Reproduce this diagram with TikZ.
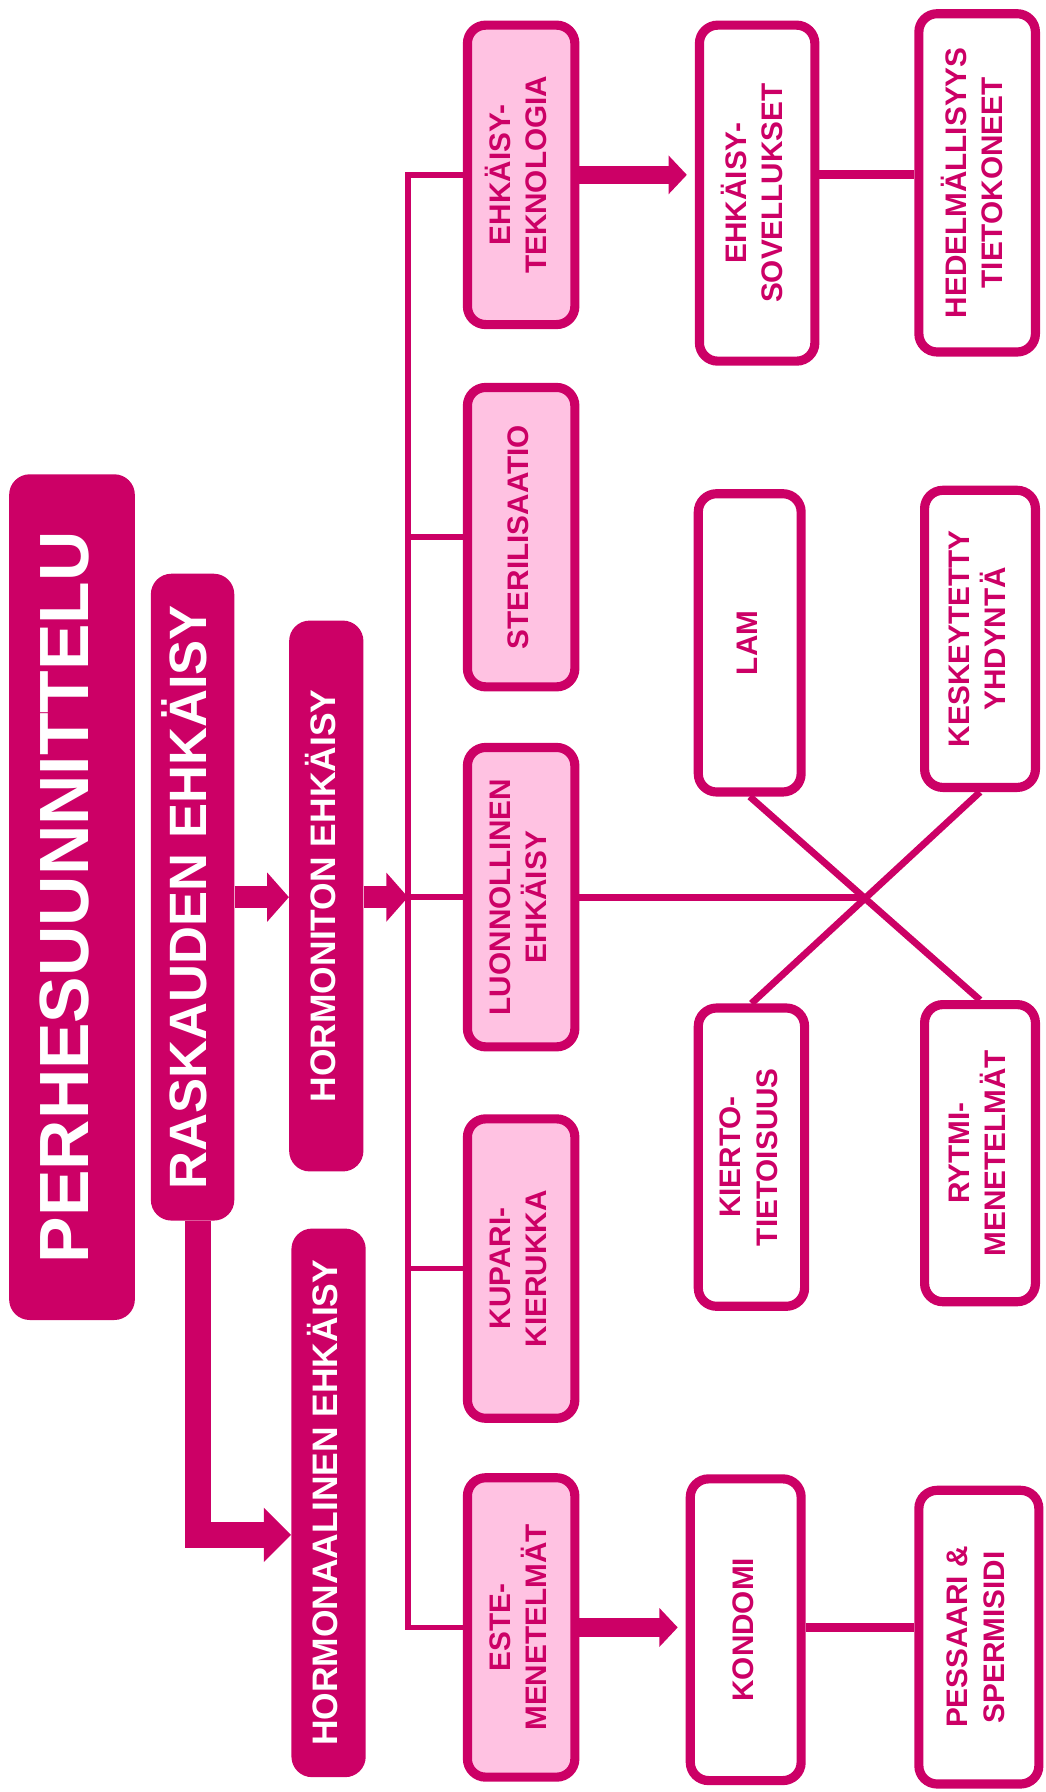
\documentclass[tikz,border=0pt]{standalone}
\usepackage{fontspec}
\setmainfont{Liberation Sans}
\usepackage{graphicx}
\usetikzlibrary{arrows.meta}
\definecolor{brand}{RGB}{204,0,102}
\definecolor{blush}{RGB}{255,194,226}
\newcommand{\vlabel}[1]{\rotatebox{90}{\begin{tabular}{@{}c@{}}#1\end{tabular}}}

\begin{document}
\begin{tikzpicture}
[x=1pt,y=-1pt,
 headbox/.style={rectangle,rounded corners=18pt,fill=brand,text=white,inner sep=0pt},
 methodbox/.style={rectangle,rounded corners=16pt,draw=brand,line width=8pt,fill=blush,text=brand,inner sep=0pt,
                   minimum width=94pt,minimum height=262pt,font=\fontsize{26}{32}\selectfont\bfseries},
 subbox/.style={methodbox,fill=white},
 bigarrow/.style={color=brand,line width=19pt,-{Triangle[width=42pt,length=19pt]}},
 sidearrow/.style={color=brand,line width=16pt,shorten >=7pt,-{Triangle[width=33pt,length=16pt]}},
 link/.style={color=brand,line width=8pt},
 branch/.style={color=brand,line width=5pt,line join=miter}]
\useasboundingbox (0,0) rectangle (915,1568);
% headings
\node[headbox,minimum width=110pt,minimum height=740pt,font=\fontsize{61}{70}\selectfont\bfseries] (perhe) at (63,785) {\vlabel{PERHESUUNNITTELU}};
\node[headbox,minimum width=73pt,minimum height=566pt,font=\fontsize{46}{52}\selectfont\bfseries] (rask) at (168.5,785) {\vlabel{RASKAUDEN EHKÄISY}};
\node[headbox,minimum width=65pt,minimum height=482pt,font=\fontsize{31}{36}\selectfont\bfseries] (hton) at (285.5,784) {\vlabel{HORMONITON EHKÄISY}};
\node[headbox,minimum width=65pt,minimum height=480pt,font=\fontsize{31}{36}\selectfont\bfseries] (hnen) at (287.5,1315) {\vlabel{HORMONAALINEN EHKÄISY}};
% methods
\node[methodbox] (tekno)  at (456,153)  {\vlabel{EHKÄISY-\\TEKNOLOGIA}};
\node[methodbox] (steri)  at (456,470)  {\vlabel{STERILISAATIO}};
\node[methodbox] (luonn)  at (456,785)  {\vlabel{LUONNOLLINEN\\EHKÄISY}};
\node[methodbox] (kupari) at (456,1110) {\vlabel{KUPARI-\\KIERUKKA}};
\node[methodbox] (este)   at (456,1424) {\vlabel{ESTE-\\MENETELMÄT}};
% sub methods
\node[subbox,minimum width=101pt,minimum height=294pt] (sovel)    at (662.5,169)   {\vlabel{EHKÄISY-\\SOVELLUKSET}};
\node[subbox,minimum width=90pt,minimum height=261pt]  (lam)      at (656,562.5)   {\vlabel{LAM}};
\node[subbox,minimum width=93pt,minimum height=261pt]  (kierto)   at (657.5,1012.5){\vlabel{KIERTO-\\TIETOISUUS}};
\node[subbox,minimum width=97pt,minimum height=264pt]  (kondomi)  at (652.5,1426)  {\vlabel{KONDOMI}};
\node[subbox,minimum width=102pt,minimum height=296pt] (hedel)    at (855,160)     {\vlabel{HEDELMÄLLISYYS\\TIETOKONEET}};
\node[subbox,minimum width=97pt,minimum height=260pt]  (kesk)     at (857.5,559)   {\vlabel{KESKEYTETTY\\YHDYNTÄ}};
\node[subbox,minimum width=97pt,minimum height=260pt]  (rytmi)    at (857.5,1009)  {\vlabel{RYTMI-\\MENETELMÄT}};
\node[subbox,minimum width=105pt,minimum height=257pt] (pessaari) at (856.5,1432.5){\vlabel{PESSAARI \&\\SPERMISIDI}};
\coordinate (spine) at (357,785);
\coordinate (bend)  at (173,1343);
\coordinate (cross) at (757,785);
% arrows
\draw[bigarrow] (rask.east) -- (rask.east -| hton.west);
\draw[bigarrow] (hton.east |- spine) -- (spine);
\draw[bigarrow,line width=23pt,line join=miter,-{Triangle[width=46pt,length=24pt]}] (bend |- rask.south) -- (bend) -- (bend -| hnen.west);
% tree
\draw[branch] (tekno.west) -| (spine) |- (este.west);
\draw[branch] (steri.west) -- (steri.west -| spine);
\draw[branch] (kupari.west) -- (kupari.west -| spine);
\draw[branch] (spine) -- (luonn.west);
\draw[sidearrow] (tekno.east) -- (tekno.east -| sovel.west);
\draw[link] (tekno.east -| sovel.east) -- (tekno.east -| hedel.west);
\draw[sidearrow] (este.east) -- (este.east -| kondomi.west);
\draw[link] (este.east -| kondomi.east) -- (este.east -| pessaari.west);
\draw[branch,line width=6pt] (luonn.east) -- (cross);
\draw[branch,line width=6pt] (lam.south) -- (rytmi.north);
\draw[branch,line width=6pt] (kesk.south) -- (kierto.north);
\end{tikzpicture}
\end{document}
